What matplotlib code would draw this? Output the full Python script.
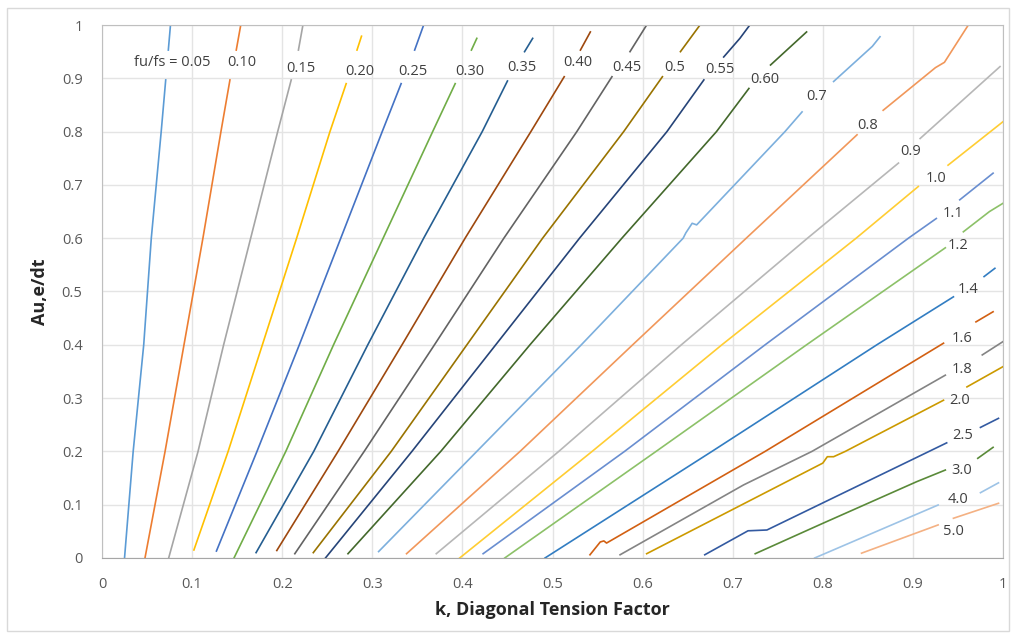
"""fu/fs contours: Au,e/dt against diagonal tension factor k."""

import matplotlib

matplotlib.use("Agg")
import matplotlib.pyplot as plt
from matplotlib.patches import Rectangle

# curve names, as written on the chart
ratios = ["fu/fs = 0.05", "0.10", "0.15", "0.20", "0.25", "0.30", "0.35", "0.40",
          "0.45", "0.5", "0.55", "0.60", "0.7", "0.8", "0.9", "1.0", "1.1", "1.2",
          "1.4", "1.6", "1.8", "2.0", "2.5", "3.0", "4.0", "5.0"]

colors = ["#5B9BD5", "#ED7D31", "#A5A5A5", "#FFC000", "#4472C4", "#70AD47",
          "#255E91", "#9E480E", "#636363", "#997300", "#264478", "#43682B",
          "#7CAFDD", "#F1975A", "#B7B7B7", "#FFCD33", "#698ED0", "#8CC168",
          "#327DC2", "#D26012", "#848484", "#CC9A00", "#335AA1", "#5A8A39",
          "#9DC3E6", "#F4B183"]

# part of each curve below its label (k, Au,e/dt)
lower_k = [
    [0.025, 0.0346, 0.0463, 0.0547, 0.0657, 0.0707],
    [0.0477, 0.070, 0.091, 0.112, 0.132, 0.142],
    [0.074, 0.1066, 0.135, 0.165, 0.195, 0.210],
    [0.102, 0.140, 0.178, 0.216, 0.253, 0.271],
    [0.127, 0.172, 0.219, 0.265, 0.311, 0.332],
    [0.1465, 0.204, 0.257, 0.312, 0.367, 0.392],
    [0.171, 0.235, 0.295, 0.357, 0.422, 0.450],
    [0.194, 0.262, 0.333, 0.403, 0.476, 0.513],
    [0.214, 0.291, 0.369, 0.446, 0.527, 0.566],
    [0.2345, 0.321, 0.405, 0.489, 0.579, 0.622],
    [0.248, 0.344, 0.437, 0.530, 0.627, 0.668],
    [0.273, 0.376, 0.475, 0.577, 0.682, 0.718],
    [0.307, 0.416, 0.532, 0.645, 0.648, 0.655, 0.660, 0.758, 0.777],
    [0.338, 0.464, 0.589, 0.715, 0.838],
    [0.371, 0.507, 0.643, 0.783, 0.884],
    [0.397, 0.544, 0.688, 0.837, 0.906],
    [0.423, 0.580, 0.736, 0.895, 0.926],
    [0.447, 0.615, 0.782, 0.936],
    [0.4917, 0.677, 0.860, 0.945],
    [0.5416, 0.553, 0.557, 0.560, 0.736, 0.934],
    [0.575, 0.712, 0.788, 0.936],
    [0.6045, 0.800, 0.805, 0.812, 0.825, 0.934],
    [0.669, 0.717, 0.738, 0.918, 0.9375],
    [0.725, 0.800, 0.904, 0.936],
    [0.791, 0.928],
    [0.843, 0.928],
]
lower_a = [
    [0.0, 0.2, 0.4, 0.6, 0.8, 0.897],
    [0.0, 0.2, 0.4, 0.6, 0.8, 0.897],
    [0.0, 0.2, 0.4, 0.6, 0.8, 0.897],
    [0.015, 0.2, 0.4, 0.6, 0.8, 0.89],
    [0.013, 0.2, 0.4, 0.6, 0.8, 0.89],
    [0.0, 0.2, 0.4, 0.6, 0.8, 0.89],
    [0.01, 0.2, 0.4, 0.6, 0.8, 0.895],
    [0.014, 0.2, 0.4, 0.6, 0.8, 0.903],
    [0.008, 0.2, 0.4, 0.6, 0.8, 0.903],
    [0.01, 0.2, 0.4, 0.6, 0.8, 0.903],
    [0.0, 0.2, 0.4, 0.6, 0.8, 0.897],
    [0.008, 0.2, 0.4, 0.6, 0.8, 0.881],
    [0.012, 0.2, 0.4, 0.6, 0.61, 0.628, 0.625, 0.8, 0.837],
    [0.008, 0.2, 0.4, 0.6, 0.794],
    [0.008, 0.2, 0.4, 0.6, 0.741],
    [0.0, 0.2, 0.4, 0.6, 0.697],
    [0.008, 0.2, 0.4, 0.6, 0.637],
    [0.0, 0.2, 0.4, 0.582],
    [0.0, 0.2, 0.4, 0.49],
    [0.006, 0.03, 0.032, 0.028, 0.2, 0.403],
    [0.006, 0.137, 0.2, 0.343],
    [0.008, 0.178, 0.19, 0.19, 0.2, 0.296],
    [0.006, 0.051, 0.0525, 0.2, 0.216],
    [0.008, 0.065, 0.143, 0.165],
    [0.0, 0.0994],
    [0.009, 0.062],
]

# part of each curve above its label
upper_k = [
    [0.0736, 0.076], [0.149, 0.154], [0.218, 0.223], [0.283, 0.288],
    [0.347, 0.357], [0.410, 0.416], [0.469, 0.478], [0.531, 0.542],
    [0.586, 0.6045], [0.642, 0.6637], [0.690, 0.708, 0.719], [0.742, 0.782],
    [0.812, 0.855, 0.8635], [0.867, 0.925, 0.935, 0.9615], [0.908, 0.9967],
    [0.939, 1.0], [0.952, 0.989], [0.956, 0.985, 1.0], [0.979, 0.991],
    [0.970, 0.989], [0.977, 1.0], [0.960, 1.0], [0.975, 0.995],
    [0.972, 0.989], [0.975, 0.995], [0.945, 0.995],
]
upper_a = [
    [0.953, 1.0], [0.953, 1.0], [0.953, 1.0], [0.953, 0.979],
    [0.953, 1.0], [0.953, 0.975], [0.95, 0.975], [0.953, 0.987],
    [0.95, 1.0], [0.95, 1.0], [0.94, 0.975, 1.0], [0.925, 0.987],
    [0.894, 0.96, 0.978], [0.84, 0.92, 0.93, 1.0], [0.787, 0.922],
    [0.737, 0.8186], [0.672, 0.722], [0.612, 0.65, 0.6655], [0.528, 0.5435],
    [0.443, 0.462], [0.381, 0.406], [0.321, 0.359], [0.245, 0.262],
    [0.187, 0.2076], [0.1225, 0.141], [0.0745, 0.1026],
]

# label centres
label_k = [0.078, 0.155, 0.221, 0.286, 0.345, 0.408, 0.466, 0.528, 0.582, 0.636,
           0.686, 0.736, 0.793, 0.850, 0.897, 0.926, 0.945, 0.950, 0.961, 0.954,
           0.955, 0.952, 0.955, 0.954, 0.950, 0.945]
label_a = [0.929, 0.929, 0.919, 0.912, 0.912, 0.912, 0.921, 0.929, 0.921, 0.921,
           0.916, 0.897, 0.866, 0.812, 0.762, 0.712, 0.647, 0.587, 0.503, 0.412,
           0.354, 0.296, 0.229, 0.165, 0.109, 0.049]

ticks = [0, 0.1, 0.2, 0.3, 0.4, 0.5, 0.6, 0.7, 0.8, 0.9, 1]
tick_text = ["0", "0.1", "0.2", "0.3", "0.4", "0.5", "0.6", "0.7", "0.8", "0.9", "1"]

plt.rcParams["font.family"] = ["Open Sans", "DejaVu Sans"]

fig = plt.figure(figsize=(10.16, 6.35), dpi=100)
fig.patches.append(Rectangle((0.007, 0.006), 0.986, 0.982, transform=fig.transFigure,
                             fill=False, edgecolor="#D9D9D9", linewidth=1.0))
ax = fig.add_axes([0.1004, 0.1213, 0.8868, 0.8393])

for i, name in enumerate(ratios):
    ax.plot(lower_k[i], lower_a[i], color=colors[i], lw=1.2, solid_joinstyle="round")
    ax.plot(upper_k[i], upper_a[i], color=colors[i], lw=1.2, solid_joinstyle="round")
    ax.text(label_k[i], label_a[i], name, ha="center", va="center",
            fontsize=10.5, color="#404040")

ax.set_xlim(0, 1)
ax.set_ylim(0, 1)
ax.set_xticks(ticks)
ax.set_xticklabels(tick_text)
ax.set_yticks(ticks)
ax.set_yticklabels(tick_text)
ax.tick_params(length=0, labelsize=10.5, labelcolor="#595959", pad=14)
ax.grid(True, color="#E4E4E4", linewidth=1.0)
ax.set_axisbelow(True)
for side in ax.spines.values():
    side.set_color("#BFBFBF")
ax.spines["bottom"].set_color("#A6A6A6")

ax.set_xlabel("k, Diagonal Tension Factor", fontsize=13, fontweight="bold",
              color="#262626", labelpad=6)
ax.set_ylabel("Au,e/dt", fontsize=13, fontweight="bold", color="#262626", labelpad=9)

fig.savefig("out.png", dpi=100)
